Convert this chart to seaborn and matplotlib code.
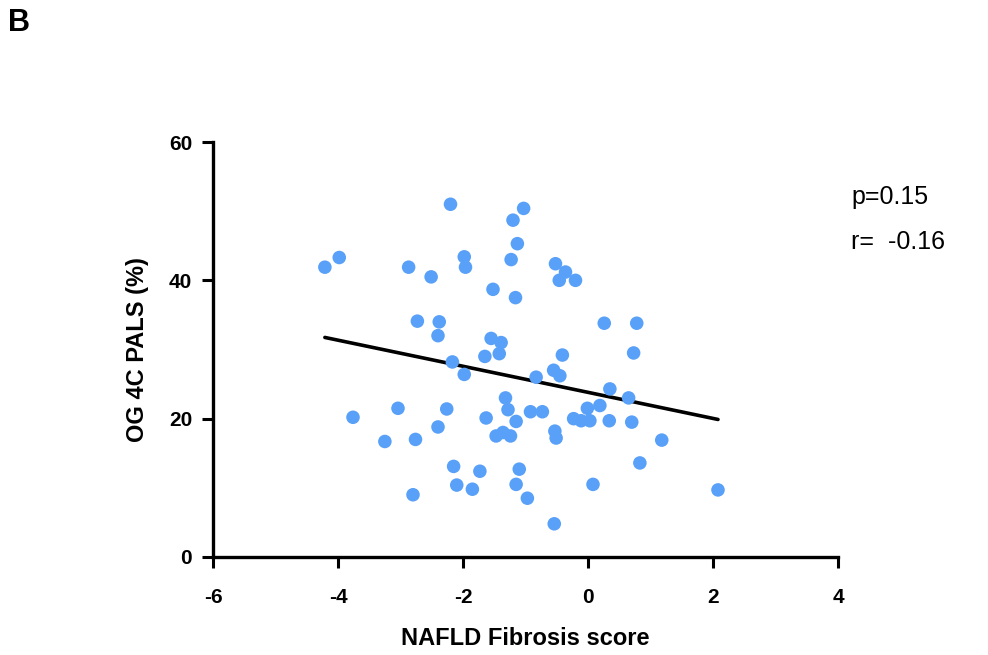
import matplotlib
matplotlib.use("Agg")
import matplotlib.pyplot as plt
import seaborn as sns
import pandas as pd

fibrosis_score = [-4.21, -3.98, -3.76, -3.25, -3.04, -2.87, -2.80, -2.76, -2.73, -2.51,
                  -2.40, -2.38, -2.40, -2.26, -2.20, -2.17, -2.15, -2.10, -1.98, -1.96,
                  -1.98, -1.85, -1.73, -1.65, -1.63, -1.55, -1.52, -1.47, -1.42, -1.39,
                  -1.36, -1.32, -1.28, -1.24, -1.23, -1.20, -1.16, -1.15, -1.15, -1.13,
                  -1.10, -1.03, -0.97, -0.92, -0.83, -0.73, -0.55, -0.54, -0.53, -0.52,
                  -0.51, -0.46, -0.45, -0.41, -0.36, -0.23, -0.20, -0.11, -0.01, 0.03,
                  0.08, 0.19, 0.26, 0.34, 0.35, 0.65, 0.70, 0.73, 0.78, 0.83,
                  1.18, 2.08]
pals = [41.9, 43.3, 20.2, 16.7, 21.5, 41.9, 9.0, 17.0, 34.1, 40.5,
        32.0, 34.0, 18.8, 21.4, 51.0, 28.2, 13.1, 10.4, 43.4, 41.9,
        26.4, 9.8, 12.4, 29.0, 20.1, 31.6, 38.7, 17.5, 29.4, 31.0,
        18.0, 23.0, 21.3, 17.5, 43.0, 48.7, 37.5, 19.6, 10.5, 45.3,
        12.7, 50.4, 8.5, 21.0, 26.0, 21.0, 27.0, 4.8, 18.2, 42.4,
        17.2, 40.0, 26.2, 29.2, 41.2, 20.0, 40.0, 19.7, 21.5, 19.7,
        10.5, 21.9, 33.8, 19.7, 24.3, 23.0, 19.5, 29.5, 33.8, 13.6,
        16.9, 9.7]
x_ticks = [-6, -4, -2, 0, 2, 4]
y_ticks = [0, 20, 40, 60]
stats_text = ["p=0.15", "r=  -0.16"]

df = pd.DataFrame({"NAFLD Fibrosis score": fibrosis_score, "OG 4C PALS (%)": pals})

sns.set_theme(style="ticks")
plt.rcParams['font.family'] = ['Liberation Sans', 'DejaVu Sans']
for k in ["text.color", "axes.labelcolor", "xtick.color", "ytick.color", "axes.edgecolor"]:
    plt.rcParams[k] = "black"

fig = plt.figure(figsize=(9.88, 6.55), dpi=100)
ax = fig.add_axes([213/988, 1-557/655, (838-213)/988, (557-142)/655])

sns.regplot(data=df, x="NAFLD Fibrosis score", y="OG 4C PALS (%)", ax=ax, ci=None,
            truncate=True,
            scatter_kws=dict(s=95, color="#58A0F8", edgecolor="none", alpha=1, zorder=3, clip_on=False),
            line_kws=dict(color="black", lw=2.6, zorder=2))

ax.set_xlim(-6, 4)
ax.set_ylim(0, 60)
ax.set_xticks(x_ticks)
ax.set_yticks(y_ticks)
ax.set_xticklabels([str(t) for t in x_ticks], fontsize=15, fontweight="bold")
ax.set_yticklabels([str(t) for t in y_ticks], fontsize=15, fontweight="bold")
for s in ["top", "right"]:
    ax.spines[s].set_visible(False)
for s in ["left", "bottom"]:
    ax.spines[s].set_linewidth(2.4)
    ax.spines[s].set_color("black")
ax.tick_params(axis="both", direction="out", length=8, width=2.2, color="black")
ax.tick_params(axis="x", pad=14)
ax.tick_params(axis="y", pad=7)
ax.set_xlabel("NAFLD Fibrosis score", fontsize=17, fontweight="bold", labelpad=15)
ax.set_ylabel("OG 4C PALS (%)", fontsize=17, fontweight="bold", labelpad=14)

fig.text(851/988, 1-197/655, stats_text[0], fontsize=18, va="center", ha="left")
fig.text(851/988, 1-242/655, stats_text[1], fontsize=18, va="center", ha="left")
fig.text(8/988, 1-23/655, "B", fontsize=22, fontweight="bold", va="center", ha="left")

fig.savefig("out.png", dpi=100)
